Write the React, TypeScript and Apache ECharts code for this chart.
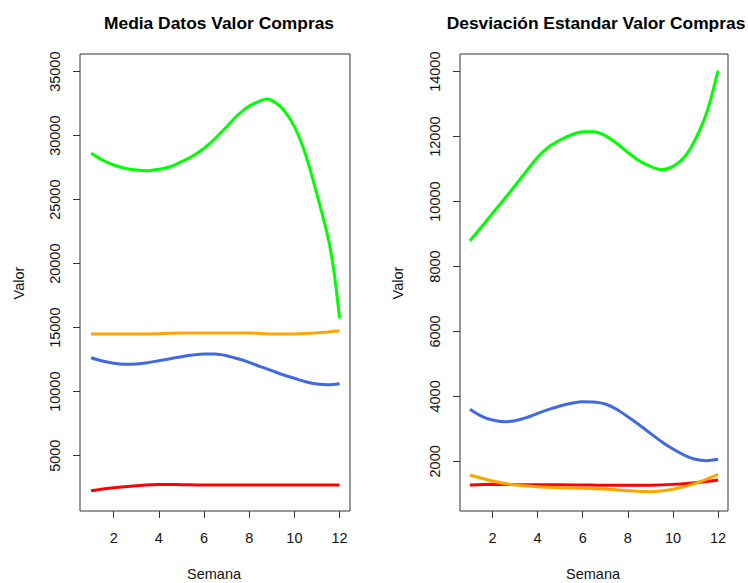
import React, { useEffect, useRef } from "react";
import * as echarts from "echarts";

// ---- Data ----
const weeks = [1, 2, 3, 4, 5, 6, 7, 8, 9, 10, 11, 12];
const halfWeeks = [1, 1.5, 2, 2.5, 3, 3.5, 4, 4.5, 5, 5.5, 6, 6.5, 7, 7.5, 8, 8.5, 9, 9.5, 10, 10.5, 11, 11.5, 12];

// Panel 1: Media Datos Valor Compras
const greenMeanWeeks = [1, 1.5, 2, 2.5, 3, 3.5, 4, 4.5, 5, 5.5, 6, 6.5, 7, 7.5, 8, 8.5, 8.75, 9, 9.5, 10, 10.5, 11, 11.5, 11.75, 12];
const greenMean = [28625, 28100, 27711, 27453, 27320, 27266, 27375, 27578, 27969, 28414, 29016, 29797, 30703, 31617, 32320, 32734, 32867, 32760, 32063, 30703, 28500, 25400, 21950, 19375, 15734];
const orangeMean = [14510, 14510, 14510, 14530, 14590, 14590, 14590, 14590, 14510, 14510, 14600, 14770];
const blueMean = [12656, 12398, 12219, 12141, 12172, 12266, 12422, 12578, 12734, 12867, 12945, 12945, 12813, 12578, 12297, 11953, 11641, 11328, 11047, 10781, 10602, 10547, 10625];
const redMean = [2270, 2500, 2660, 2760, 2740, 2710, 2710, 2710, 2710, 2710, 2710, 2710];

// Panel 2: Desviación Estandar Valor Compras
const greenSd = [8794, 9207, 9638, 10058, 10489, 10932, 11363, 11690, 11896, 12059, 12152, 12152, 12029, 11794, 11517, 11258, 11085, 10982, 11085, 11363, 11927, 12749, 14030];
const blueSd = [3602, 3395, 3272, 3220, 3251, 3344, 3478, 3602, 3703, 3786, 3836, 3826, 3765, 3602, 3374, 3127, 2862, 2604, 2379, 2194, 2062, 2020, 2062];
const orangeSd = [1578, 1393, 1270, 1218, 1187, 1168, 1147, 1095, 1064, 1138, 1322, 1600];
const redSd = [1270, 1291, 1285, 1280, 1280, 1270, 1262, 1262, 1265, 1290, 1342, 1424];

const xTicks = [2, 4, 6, 8, 10, 12];
const meanTicks = [5000, 10000, 15000, 20000, 25000, 30000, 35000];
const sdTicks = [2000, 4000, 6000, 8000, 10000, 12000, 14000];

const titles = ["Media Datos Valor Compras", "Desviación Estandar Valor Compras"];
const xName = "Semana";
const yName = "Valor";

const GREEN = "#00FF00";
const ORANGE = "#FFA500";
const BLUE = "#4169E1";
const RED = "#FF0000";
const FONT = "'Liberation Sans', Arial, sans-serif";

const zip = (xs: number[], ys: number[]) => xs.map((x, i) => [x, ys[i]]);

export default function App() {
  const ref = useRef<HTMLDivElement>(null);

  useEffect(() => {
    document.body.style.margin = "0";
    if (!ref.current) return;
    const chart = echarts.init(ref.current, null, { renderer: "svg" });

    const mkX = (idx: number, min: number, max: number) => ({
      type: "value",
      gridIndex: idx,
      min,
      max,
      axisLine: { show: false },
      splitLine: { show: false },
      axisTick: { show: true, inside: false, length: 7, customValues: xTicks, lineStyle: { color: "#333", width: 1 } },
      axisLabel: { customValues: xTicks, formatter: (v: number) => String(v), color: "#111", fontSize: 14.5, fontFamily: FONT, margin: 19 },
    });
    const mkY = (idx: number, min: number, max: number, ticks: number[]) => ({
      type: "value",
      gridIndex: idx,
      min,
      max,
      axisLine: { show: false },
      splitLine: { show: false },
      axisTick: { show: true, inside: false, length: 7, customValues: ticks, lineStyle: { color: "#333", width: 1 } },
      axisLabel: { customValues: ticks, formatter: (v: number) => String(v), rotate: 90, color: "#111", fontSize: 14.5, fontFamily: FONT, margin: 18 },
    });

    const line = (name: string, color: string, data: number[][], idx: number, z: number) => ({
      type: "line",
      name,
      xAxisIndex: idx,
      yAxisIndex: idx,
      data,
      smooth: 0.3,
      showSymbol: false,
      z,
      lineStyle: { color, width: 3 },
      itemStyle: { color },
    });

    const axisTitle = (text: string, x: number, y: number, rot: number) => ({
      type: "text",
      x,
      y,
      rotation: rot,
      style: { text, fill: "#111", fontSize: 14.5, fontFamily: FONT, textAlign: "center", textVerticalAlign: "middle" },
    });

    const titleStyle = { fontSize: 17.4, fontWeight: "bold", fontFamily: FONT, color: "#000" };

    chart.setOption({
      animation: false,
      backgroundColor: "#fff",
      title: [
        { text: titles[0], left: 214, top: 9, textAlign: "center", textStyle: titleStyle },
        { text: titles[1], left: 591, top: 9, textAlign: "center", textStyle: titleStyle },
      ],
      grid: [
        { left: 80, top: 54, width: 270, height: 457, show: true, borderColor: "#333", borderWidth: 1, backgroundColor: "transparent", outerBoundsMode: "none" },
        { left: 460, top: 54, width: 268, height: 457, show: true, borderColor: "#333", borderWidth: 1, backgroundColor: "transparent", outerBoundsMode: "none" },
      ],
      xAxis: [mkX(0, 0.51, 12.46), mkX(1, 0.56, 12.44)],
      yAxis: [mkY(0, 680, 36383, meanTicks), mkY(1, 470, 14545, sdTicks)],
      series: [
        line("green", GREEN, zip(greenMeanWeeks, greenMean), 0, 4),
        line("orange", ORANGE, zip(weeks, orangeMean), 0, 3),
        line("blue", BLUE, zip(halfWeeks, blueMean), 0, 3),
        line("red", RED, zip(weeks, redMean), 0, 3),
        line("green", GREEN, zip(halfWeeks, greenSd), 1, 4),
        line("blue", BLUE, zip(halfWeeks, blueSd), 1, 3),
        line("red", RED, zip(weeks, redSd), 1, 3),
        line("orange", ORANGE, zip(weeks, orangeSd), 1, 3),
      ],
      graphic: [
        axisTitle(yName, 19, 283, Math.PI / 2),
        axisTitle(yName, 398, 283, Math.PI / 2),
        axisTitle(xName, 214, 574, 0),
        axisTitle(xName, 593, 574, 0),
      ],
    });

    return () => chart.dispose();
  }, []);

  return <div ref={ref} style={{ width: 748, height: 583 }} />;
}
